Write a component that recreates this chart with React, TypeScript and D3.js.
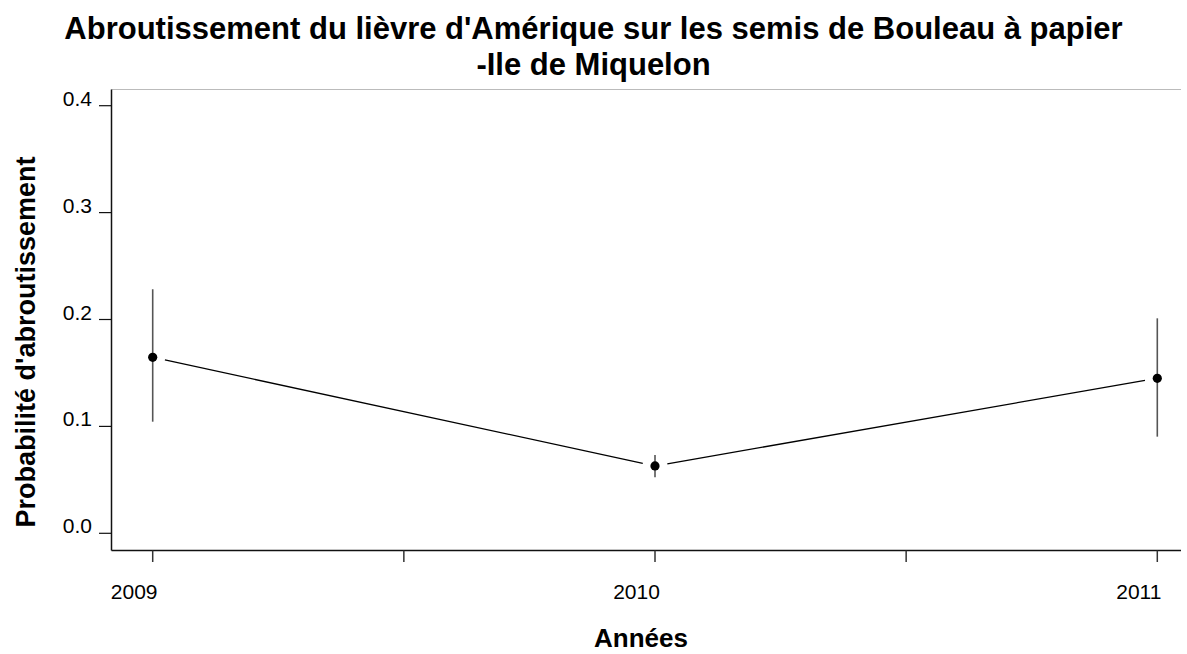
import React from "react";
import * as d3 from "d3";

const years = [2009, 2010, 2011];
const prob = [0.1646, 0.063, 0.145];
const lower = [0.1044, 0.0524, 0.0904];
const upper = [0.2283, 0.0732, 0.2011];
const yTicks = [0, 0.1, 0.2, 0.3, 0.4];
const yTickLabels = ["0.0", "0.1", "0.2", "0.3", "0.4"];
const xTicks = [2009, 2009.5, 2010, 2010.5, 2011];
const xTickLabels = ["2009", "", "2010", "", "2011"];
const titleLines = [
  "Abroutissement du lièvre d'Amérique sur les semis de Bouleau à papier",
  "-Ile de Miquelon",
];
const xTitle = "Années";
const yTitle = "Probabilité d'abroutissement";

const W = 1187;
const H = 654;
const FONT = "'Liberation Sans', Arial, Helvetica, sans-serif";

export default function App() {
  const x = d3.scaleLinear().domain([2009, 2011]).range([152.7, 1157.3]);
  const y = d3.scaleLinear().domain([0, 0.4]).range([533.3, 105.7]);
  const axisLeft = 111.5;
  const axisBottom = 550.5;
  const plotTop = 89.5;
  const plotRight = 1181;
  const gap = 12.5;

  const pts = years.map((yr, i) => ({ px: x(yr), py: y(prob[i]) }));
  const segs = pts.slice(1).map((p, i) => {
    const a = pts[i];
    const dx = p.px - a.px;
    const dy = p.py - a.py;
    const len = Math.hypot(dx, dy);
    const ux = dx / len;
    const uy = dy / len;
    return {
      x1: a.px + ux * gap,
      y1: a.py + uy * gap,
      x2: p.px - ux * gap,
      y2: p.py - uy * gap,
    };
  });

  return (
    <svg
      width={W}
      height={H}
      style={{ position: "absolute", left: 0, top: 0, display: "block", background: "#fff" }}
      fontFamily={FONT}
    >
      <rect x={0} y={0} width={W} height={H} fill="#fff" />
      {/* Title */}
      <text x={593.5} y={39} textAnchor="middle" fontSize={31} fontWeight="bold" fill="#000">
        {titleLines[0]}
      </text>
      <text x={593.5} y={75} textAnchor="middle" fontSize={31} fontWeight="bold" fill="#000">
        {titleLines[1]}
      </text>

      {/* Frame lines */}
      <line x1={axisLeft} y1={plotTop} x2={plotRight} y2={plotTop} stroke="#aaa" strokeWidth={0.8} />
      <line x1={axisLeft} y1={plotTop} x2={axisLeft} y2={axisBottom} stroke="#111" strokeWidth={1.5} />
      <line x1={axisLeft} y1={axisBottom} x2={plotRight} y2={axisBottom} stroke="#111" strokeWidth={1.5} />

      {/* Y ticks */}
      {yTicks.map((t, i) => (
        <g key={"y" + i}>
          <line x1={99} y1={y(t)} x2={axisLeft} y2={y(t)} stroke="#111" strokeWidth={1.2} />
          <text x={92} y={y(t)} textAnchor="end" fontSize={21} fill="#000">
            {yTickLabels[i]}
          </text>
        </g>
      ))}

      {/* X ticks */}
      {xTicks.map((t, i) => (
        <g key={"x" + i}>
          <line x1={x(t)} y1={axisBottom} x2={x(t)} y2={562} stroke="#333" strokeWidth={1.5} />
          {xTickLabels[i] && (
            <text x={x(t) - 18.5} y={599} textAnchor="middle" fontSize={21} fill="#000">
              {xTickLabels[i]}
            </text>
          )}
        </g>
      ))}

      {/* Axis titles */}
      <text x={641} y={647} textAnchor="middle" fontSize={26} fontWeight="bold" fill="#000">
        {xTitle}
      </text>
      <text
        transform={`translate(35,342) rotate(-90)`}
        textAnchor="middle"
        fontSize={27}
        fontWeight="bold"
        fill="#000"
      >
        {yTitle}
      </text>

      {/* Error bars */}
      {years.map((yr, i) => (
        <line
          key={"e" + i}
          x1={x(yr)}
          x2={x(yr)}
          y1={y(upper[i])}
          y2={y(lower[i])}
          stroke="#555"
          strokeWidth={1.6}
        />
      ))}

      {/* Connecting line with gaps */}
      {segs.map((s, i) => (
        <line key={"s" + i} x1={s.x1} y1={s.y1} x2={s.x2} y2={s.y2} stroke="#000" strokeWidth={1.3} />
      ))}

      {/* Points */}
      {pts.map((p, i) => (
        <circle key={"p" + i} cx={p.px} cy={p.py} r={4.6} fill="#000" />
      ))}
    </svg>
  );
}
